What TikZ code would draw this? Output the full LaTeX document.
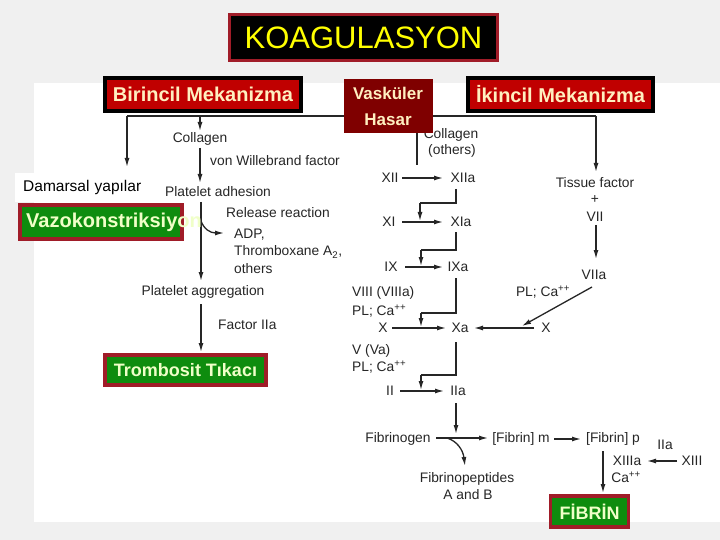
\documentclass[tikz,border=0pt]{standalone}
\usepackage{fontspec}
\setmainfont{Liberation Sans}
\usetikzlibrary{arrows.meta}
\definecolor{bggrey}{HTML}{F0F0F0}
\definecolor{frame}{HTML}{A01C28}
\definecolor{titley}{HTML}{FFFF00}
\definecolor{mechred}{HTML}{C00000}
\definecolor{maroon}{HTML}{7F0000}
\definecolor{cream}{HTML}{FFEFC0}
\definecolor{boxgreen}{HTML}{0E8C0E}
\definecolor{paletxt}{HTML}{F0FFC8}
\tikzset{
  lbl/.style={font=\fontsize{13.8}{15}\selectfont, inner sep=0pt, text=black!85},
  arr/.style={-{Latex[length=9pt,width=5pt]}, line width=1.3pt, draw=black!85},
  ln/.style={line width=1.3pt, draw=black!85},
  mech/.style={draw=black, line width=4pt, fill=mechred, text=cream, font=\fontsize{20}{22}\bfseries\selectfont, inner sep=0pt},
  greenbox/.style={draw=frame, line width=3.5pt, fill=boxgreen, text=paletxt, font=\fontsize{18}{20}\bfseries\selectfont, inner sep=0pt},
}
\begin{document}
\begin{tikzpicture}[x=1pt,y=-1pt]
\useasboundingbox (0,0) rectangle (720,540);
\fill[bggrey] (0,0) rectangle (720,540);
\fill[white] (34,83) rectangle (720,522);

% Title
\node[draw=frame, line width=3.5pt, fill=black, text=titley, font=\fontsize{31}{33}\selectfont,
  minimum width=268pt, minimum height=46pt, inner sep=0pt] (title) at (363.5,37.5) {KOAGULASYON};

% Top connector line
\coordinate (tl) at (127,116);
\coordinate (tr) at (596,116);
\coordinate (tc) at (200,116);
\coordinate (vtop) at (417,133);
\coordinate (vbot) at (417,165);

% Left column texts
\node[lbl] (colL) at (200,139) {Collagen};
\node[lbl, anchor=west] (vwf) at (210,161) {von Willebrand factor};
\node[lbl] (padh) at (218,192) {Platelet adhesion};
\node[lbl, anchor=west] (relr) at (226,213) {Release reaction};
\node[lbl, anchor=west] (adp) at (234,235) {ADP,};
\node[lbl, anchor=west] (thx) at (234,252) {Thromboxane A\textsubscript{2},};
\node[lbl, anchor=west] (oth) at (234,269) {others};
\node[lbl] (pagg) at (203,292) {Platelet aggregation};
\node[lbl, anchor=west] (f2a) at (218,325) {Factor IIa};

\draw[ln] (tl) -- (tr);
\draw[arr] (tl) -- (127,167);
\draw[arr] (tr) -- (596,172);
\draw[arr] (tc) -- (200,131);
\draw[arr] (200,148) -- (200,183);
\draw[arr] (201,202) -- (201,281);
\draw[arr] (201,221) .. controls (204,229) and (210,233) .. (224,233);
\draw[arr] (201,304) -- (201,352);

% Intrinsic pathway
\node[lbl] (colR) at (451,135) {Collagen};
\node[lbl] (othR) at (452,151) {(others)};
\draw[ln] (vtop) -- (vbot);

\node[lbl] (xii) at (390,178) {XII};
\node[lbl] (xiia) at (463,178) {XIIa};
\draw[arr] (402,178) -- (443,178);
\draw[ln] (456,189) -- (456,203) -- (420,203);
\draw[arr] (420,203) -- (420,221);

\node[lbl] (xi) at (389,222) {XI};
\node[lbl] (xia) at (461,222) {XIa};
\draw[arr] (402,222) -- (443,222);
\draw[ln] (456,232) -- (456,250) -- (421,250);
\draw[arr] (421,250) -- (421,266);

\node[lbl] (ix) at (391,267) {IX};
\node[lbl] (ixa) at (458,267) {IXa};
\draw[arr] (405,267) -- (443,267);

\node[lbl, anchor=west] (viii) at (352,293) {VIII (VIIIa)};
\node[lbl, anchor=west] (plca1) at (352,311) {PL; Ca\textsuperscript{++}};
\draw[ln] (456,278) -- (456,313) -- (421,313);
\draw[arr] (421,313) -- (421,327);

\node[lbl] (x) at (383,328) {X};
\node[lbl] (xa) at (460,328) {Xa};
\draw[arr] (392,328) -- (446,328);

\node[lbl, anchor=west] (va) at (352,351) {V (Va)};
\node[lbl, anchor=west] (plca2) at (352,367) {PL; Ca\textsuperscript{++}};
\draw[ln] (456,342) -- (456,375) -- (421,375);
\draw[arr] (421,375) -- (421,390);

\node[lbl] (ii) at (390,391) {II};
\node[lbl] (iia) at (458,391) {IIa};
\draw[arr] (400,391) -- (444,391);

% Extrinsic pathway
\node[lbl] (tf) at (595,183) {Tissue factor};
\node[lbl] (plus) at (595,200) {+};
\node[lbl] (vii) at (595,217) {VII};
\draw[arr] (596,225) -- (596,259);
\node[lbl] (viia) at (594,275) {VIIa};
\node[lbl] (plca3) at (543,292) {PL; Ca\textsuperscript{++}};
\draw[arr] (592,287) -- (522,326);
\node[lbl] (x2) at (546,328) {X};
\draw[arr] (534,328) -- (474,328);

% Fibrin formation
\draw[arr] (456,403) -- (456,434);
\node[lbl] (fbg) at (398,439) {Fibrinogen};
\draw[arr] (436,438) -- (488,438);
\draw[arr] (447,438) .. controls (457,441) and (463,450) .. (465,466);
\node[lbl] (fbm) at (521,439) {[Fibrin] m};
\draw[arr] (554,439) -- (581,439);
\node[lbl] (fbp) at (613,439) {[Fibrin] p};
\node[lbl] (fpep) at (467,479) {Fibrinopeptides};
\node[lbl] (ab) at (468,495) {A and B};
\draw[arr] (603,451) -- (603,493);
\node[lbl] (iia2) at (665,445) {IIa};
\node[lbl] (xiiia) at (627,461) {XIIIa};
\node[lbl] (xiii) at (692,461) {XIII};
\draw[arr] (677,461) -- (647,461);
\node[lbl] (ca) at (626,477) {Ca\textsuperscript{++}};

% Coloured label boxes
\node[mech, minimum width=196pt, minimum height=33pt] (bir) at (203,94.5) {Birincil Mekanizma};
\node[mech, minimum width=185pt, minimum height=33pt] (iki) at (560.5,94.5) {İkincil Mekanizma};
\node[fill=maroon, text=cream, font=\fontsize{17}{26}\bfseries\selectfont, align=center,
  minimum width=89pt, minimum height=54pt, inner sep=0pt] (vas) at (388,106) {Vasküler\\Hasar};

\node[fill=white, text=black, font=\fontsize{15.5}{17}\selectfont, anchor=west,
  minimum width=150pt, minimum height=29pt, inner sep=0pt, text width=146pt] (dam) at (15,187.5) {\hspace{6pt}Damarsal yapılar};

\node[greenbox, minimum width=162pt, minimum height=34pt] (vazo) at (101,222) {};
\node[text=paletxt, font=\fontsize{20}{22}\bfseries\selectfont, anchor=west, inner sep=0pt] (vazot) at (26,222) {Vazokonstriksiyon};

\node[greenbox, minimum width=161pt, minimum height=30pt] (tromb) at (185.5,370) {Trombosit Tıkacı};
\node[greenbox, minimum width=78pt, minimum height=31pt] (fib) at (589.5,511.5) {FİBRİN};
\end{tikzpicture}
\end{document}
